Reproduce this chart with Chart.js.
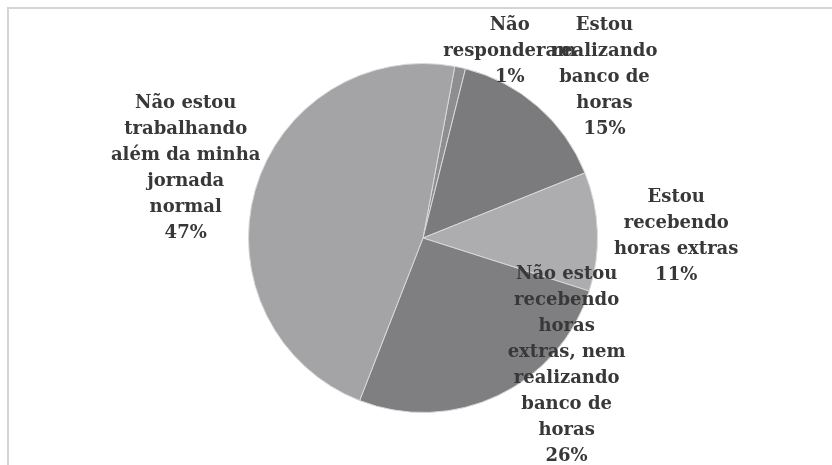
<!DOCTYPE html>
<html>
<head>
<meta charset="utf-8">
<script src="https://cdn.jsdelivr.net/npm/chart.js@4/dist/chart.umd.min.js"></script>
<style>
  html, body { margin: 0; padding: 0; background: #fff; }
  #wrap { width: 832px; height: 465px; position: relative; }
</style>
</head>
<body>
<div id="wrap"><canvas id="myChart"></canvas></div>
<script>
// categories, clockwise from the top
var categories = [
  ['Não', 'responderam'],
  ['Estou', 'realizando', 'banco de', 'horas'],
  ['Estou', 'recebendo', 'horas extras'],
  ['Não estou', 'recebendo', 'horas', 'extras, nem', 'realizando', 'banco de', 'horas'],
  ['Não estou', 'trabalhando', 'além da minha', 'jornada', 'normal']
];
var percents = [1, 15, 11, 26, 47];
var sliceColors = ['#8e8e90', '#7b7b7d', '#adadaf', '#7f7f81', '#a4a4a6'];

// where each label block sits, relative to the pie centre, in radius units
var labelOffsets = [[0.497, -1.069], [1.04, -0.92], [1.451, -0.009], [0.823, 0.729], [-1.36, -0.397]];

var frame = {
  id: 'frame',
  beforeDraw: function (chart) {
    var c = chart.ctx;
    c.save();
    c.strokeStyle = '#d4d4d4';
    c.lineWidth = 2;
    c.beginPath();
    c.moveTo(8, chart.height);
    c.lineTo(8, 8);
    c.lineTo(chart.width, 8);
    c.stroke();
    c.restore();
  }
};

var pieLabels = {
  id: 'pieLabels',
  afterDatasetsDraw: function (chart) {
    var c = chart.ctx;
    var arcs = chart.getDatasetMeta(0).data;
    c.save();
    c.font = 'bold 18px "DejaVu Serif"';
    c.fillStyle = '#383838';
    c.textAlign = 'center';
    c.textBaseline = 'middle';
    var lh = 26;
    arcs.forEach(function (arc, i) {
      var lines = categories[i].concat([percents[i] + '%']);
      var cx = arc.x + labelOffsets[i][0] * arc.outerRadius;
      var cy = arc.y + labelOffsets[i][1] * arc.outerRadius;
      var top = cy - (lines.length - 1) * lh / 2;
      lines.forEach(function (t, k) {
        c.fillText(t, cx, top + k * lh);
      });
    });
    c.restore();
  }
};

var ctx = document.getElementById('myChart').getContext('2d');
var chart = new Chart(ctx, {
  type: 'pie',
  data: {
    labels: categories,
    datasets: [{
      data: percents,
      backgroundColor: sliceColors,
      borderColor: '#d8d8d8',
      borderWidth: 1
    }]
  },
  options: {
    responsive: true,
    maintainAspectRatio: false,
    animation: false,
    rotation: 10.5,
    layout: { padding: { top: 63, bottom: 52, left: 14, right: 0 } },
    plugins: {
      legend: { display: false },
      tooltip: { enabled: false }
    }
  },
  plugins: [frame, pieLabels]
});
</script>
</body>
</html>
